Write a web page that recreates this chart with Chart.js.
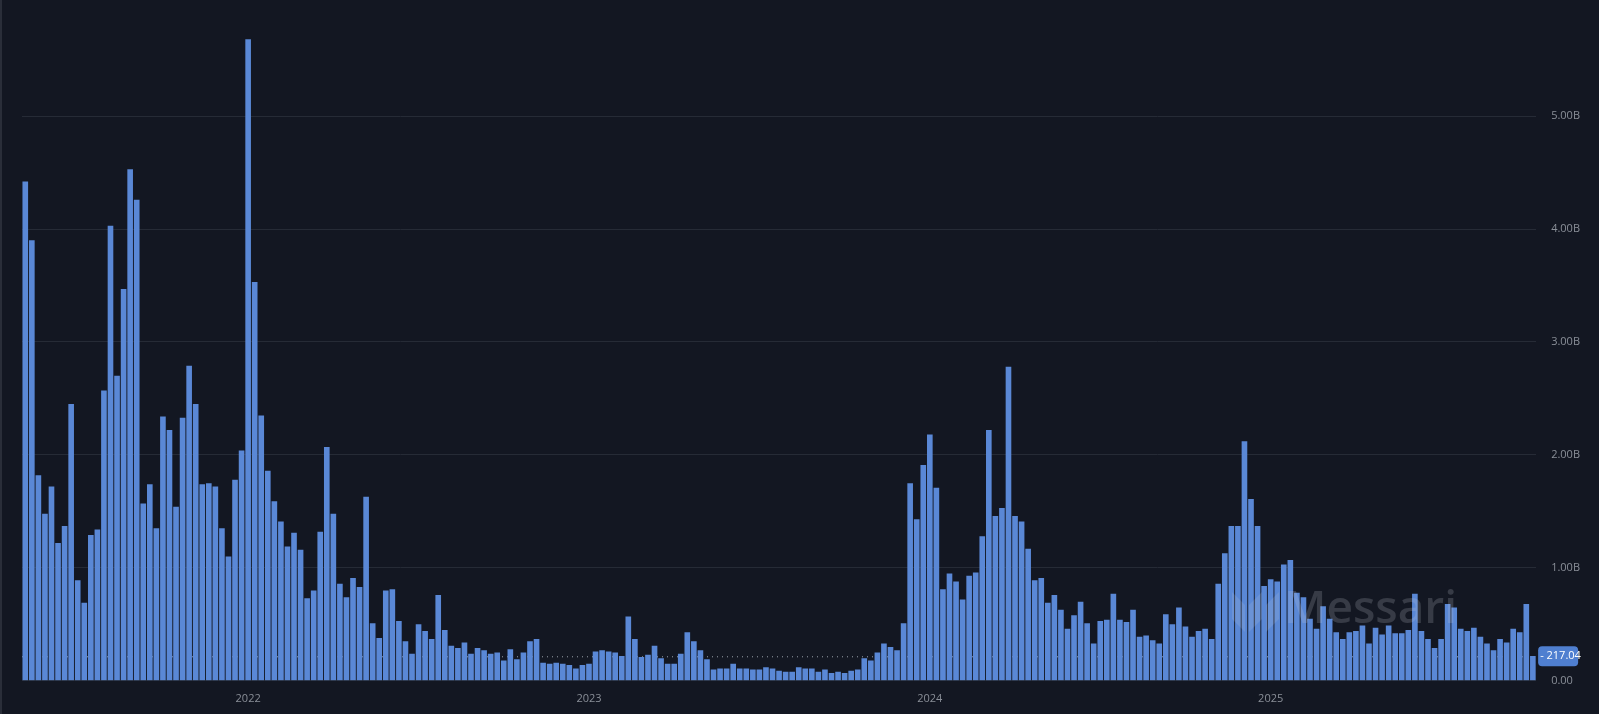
<!DOCTYPE html>
<html><head><meta charset="utf-8">
<script src="https://cdn.jsdelivr.net/npm/chart.js@4"></script>
<style>html,body{margin:0;padding:0;background:#131722;}#w{width:1599px;height:714px;border-left:2px solid #2a2e39;box-sizing:border-box}</style>
</head><body><div id="w"><canvas id="c"></canvas></div>
<script>
const values = [4.42,3.90,1.82,1.48,1.72,1.22,1.37,2.45,0.89,0.69,1.29,1.34,2.57,4.03,2.70,3.47,4.53,4.26,1.57,1.74,1.35,2.34,2.22,1.54,2.33,2.79,2.45,1.74,1.75,1.72,1.35,1.10,1.78,2.04,5.68,3.53,2.35,1.86,
1.59,1.41,1.19,1.31,1.16,0.73,0.80,1.32,2.07,1.48,0.86,0.74,0.91,0.83,1.63,0.51,0.38,0.80,0.81,0.53,0.35,0.24,0.50,0.44,0.37,0.76,0.45,0.31,0.29,0.34,0.24,0.29,0.27,0.24,0.25,0.18,0.28,0.19,0.25,0.35,0.37,0.16,0.15,0.16,
0.15,0.14,0.11,0.14,0.15,0.26,0.27,0.26,0.25,0.22,0.57,0.37,0.21,0.23,0.31,0.20,0.15,0.15,0.24,0.43,0.35,0.27,0.19,0.10,0.11,0.11,0.15,0.11,0.11,0.10,0.10,0.12,0.11,0.09,0.08,0.08,0.12,0.11,0.11,0.08,0.10,0.07,0.08,0.07,0.09,0.10,0.20,0.18,
0.25,0.33,0.30,0.27,0.51,1.75,1.43,1.91,2.18,1.71,0.81,0.95,0.88,0.72,0.93,0.96,1.28,2.22,1.46,1.53,2.78,1.46,1.41,1.17,0.89,0.91,0.69,0.76,0.63,0.46,0.58,0.70,0.51,0.33,0.53,0.54,0.77,0.54,0.52,0.63,0.39,0.40,0.36,0.33,0.59,0.50,
0.65,0.48,0.39,0.44,0.46,0.37,0.86,1.13,1.37,1.37,2.12,1.61,1.37,0.84,0.90,0.88,1.03,1.07,0.78,0.74,0.55,0.46,0.66,0.55,0.43,0.37,0.43,0.44,0.49,0.33,0.47,0.41,0.49,0.42,0.42,0.45,0.77,0.44,0.37,0.29,0.37,0.68,0.65,0.46,0.44,0.47,0.39,0.33,0.27,0.37,0.34,0.46,0.43,0.68,0.22];
const categories = values.map((v,i)=>'w'+i);
const yearTicks = {34:'2022', 86:'2023', 138:'2024', 190:'2025'};
const yTicks = [0,1,2,3,4,5];
const lastLabel = '217.04';
const lastValue = 0.217;

const overlay = {
  id:'overlay',
  beforeDatasetsDraw(ch){
    const {ctx, chartArea:a, scales:{y}} = ch;
    const py = y.getPixelForValue(lastValue);
    ctx.save();ctx.strokeStyle='#9aa0ab';ctx.setLineDash([1,4]);ctx.lineWidth=1;
    ctx.beginPath();ctx.moveTo(a.left,py+0.5);ctx.lineTo(a.right,py+0.5);ctx.stroke();ctx.restore();
  },
  afterDatasetsDraw(ch){
    const {ctx, chartArea:a, scales:{y}} = ch;
    ctx.save();
    ctx.font='600 46px "Open Sans", sans-serif';ctx.fillStyle='rgba(200,205,215,0.2)';
    ctx.textBaseline='middle';ctx.fillText('Messari',1282,610);
    ctx.fillStyle='rgba(200,205,215,0.16)';
    ctx.beginPath();ctx.moveTo(1230,592);ctx.lineTo(1243,605);ctx.lineTo(1243,632);ctx.lineTo(1230,619);ctx.closePath();ctx.fill();
    ctx.beginPath();ctx.moveTo(1247,605);ctx.lineTo(1260,592);ctx.lineTo(1260,619);ctx.lineTo(1247,632);ctx.closePath();ctx.fill();
    ctx.beginPath();ctx.moveTo(1264,605);ctx.lineTo(1277,592);ctx.lineTo(1277,619);ctx.lineTo(1264,632);ctx.closePath();ctx.fill();
    const py = y.getPixelForValue(lastValue);
    ctx.fillStyle='#4f7fd0';
    ctx.beginPath();ctx.roundRect(a.right+2,py-10,40,20,4);ctx.fill();
    ctx.fillStyle='#fff';ctx.font='11px "Open Sans", sans-serif';ctx.textBaseline='middle';
    ctx.fillText('- '+lastLabel,a.right+4,py);
    ctx.restore();
  }
};

new Chart(document.getElementById('c'),{
  type:'bar',
  data:{labels:categories,datasets:[{data:values,backgroundColor:'#5a88d6',barPercentage:0.86,categoryPercentage:1}]},
  options:{
    responsive:true,maintainAspectRatio:false,animation:false,
    layout:{padding:{left:20,top:28,right:4,bottom:6}},
    plugins:{legend:{display:false},tooltip:{enabled:false}},
    scales:{
      x:{grid:{display:false},border:{display:false},
         ticks:{autoSkip:false,maxRotation:0,color:'#8a8f98',font:{size:11,family:'"Open Sans", sans-serif'},
           callback:(v,i)=>yearTicks[i]||''}},
      y:{position:'right',min:0,max:5.78,
         afterBuildTicks:(s)=>{s.ticks=yTicks.map(v=>({value:v}));},
         grid:{color:'#262b36',drawTicks:false},border:{display:false},
         ticks:{padding:15,color:'#8a8f98',font:{size:11,family:'"Open Sans", sans-serif'},
           callback:(v)=>v===0?'0.00':v.toFixed(2)+'B'}}
    }
  },
  plugins:[overlay]
});
</script></body></html>
